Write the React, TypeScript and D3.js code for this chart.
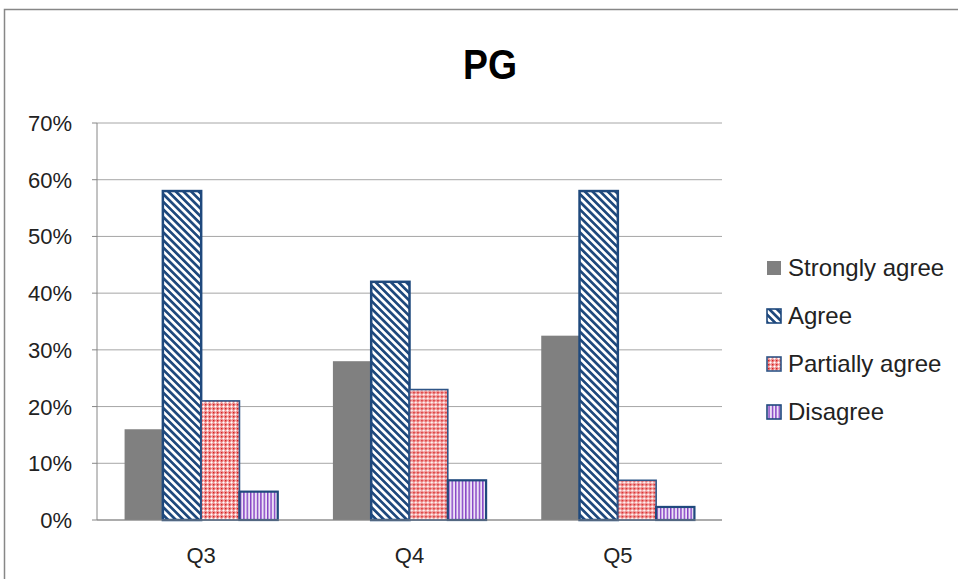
import React from "react";
import * as d3 from "d3";

const categories = ["Q3", "Q4", "Q5"];
const seriesNames = ["Strongly agree", "Agree", "Partially agree", "Disagree"];
const stronglyAgree = [0.16, 0.28, 0.325];
const agree = [0.58, 0.42, 0.58];
const partiallyAgree = [0.21, 0.23, 0.07];
const disagree = [0.05, 0.07, 0.023];
const yTicks = [0, 0.1, 0.2, 0.3, 0.4, 0.5, 0.6, 0.7];

const seriesValues = [stronglyAgree, agree, partiallyAgree, disagree];

const W = 958;
const H = 579;
const FONT = "'Liberation Sans', Arial, sans-serif";

const fills = ["#808080", "url(#hatchAgree)", "url(#checkPartial)", "url(#stripeDisagree)"];
const strokes = ["none", "#1F497D", "#2F5587", "#1F497D"];
const strokeWidths = [0, 2.5, 1.6, 2.2];

export default function App() {
  const x0 = d3.scaleBand<string>().domain(categories).range([97, 722]).padding(0);
  const x1 = d3
    .scaleBand<string>()
    .domain(seriesNames)
    .range([0, x0.bandwidth()])
    .paddingInner(0)
    .paddingOuter(0.72);
  const y = d3.scaleLinear().domain([0, 0.7]).range([520, 123]);
  const fmt = d3.format(".0%");

  const legendY = [276, 324, 372, 420];

  return (
    <svg
      width={W}
      height={H}
      style={{ position: "absolute", left: 0, top: 0, background: "#fff" }}
    >
      <defs>
        <pattern
          id="hatchAgree"
          patternUnits="userSpaceOnUse"
          width={5.4}
          height={5.4}
          patternTransform="rotate(-45)"
        >
          <rect width={5.4} height={5.4} fill="#fff" />
          <rect width={2.7} height={5.4} fill="#1F497D" />
        </pattern>
        <pattern id="checkPartial" patternUnits="userSpaceOnUse" width={4} height={4}>
          <rect width={4} height={4} fill="#EF9494" />
          <rect x={0} y={0} width={1.4} height={1.4} fill="#D62020" />
          <rect x={2} y={1.4} width={1} height={2.2} fill="#fff" />
          <rect x={1.4} y={2} width={2.2} height={1} fill="#fff" />
        </pattern>
        <pattern id="stripeDisagree" patternUnits="userSpaceOnUse" width={3.4} height={4}>
          <rect width={3.4} height={4} fill="#EDE3F6" />
          <rect width={1.4} height={4} fill="#8440C4" />
        </pattern>
      </defs>

      {/* chart frame */}
      <rect x={4.5} y={9.5} width={1000} height={1000} fill="#fff" stroke="#878787" strokeWidth={1.5} />

      {/* title */}
      <text
        x={490}
        y={79}
        textAnchor="middle"
        fontFamily={FONT}
        fontWeight="bold"
        fontSize={42}
        textLength={54}
        lengthAdjust="spacingAndGlyphs"
        fill="#000"
      >
        PG
      </text>

      {/* gridlines */}
      {yTicks.map((t) => (
        <line key={"g" + t} x1={97} x2={722} y1={y(t)} y2={y(t)} stroke="#A6A6A6" strokeWidth={1} />
      ))}

      {/* y axis */}
      <line x1={97} x2={97} y1={y(0.7)} y2={y(0)} stroke="#868686" strokeWidth={1} />
      {yTicks.map((t) => (
        <g key={"t" + t}>
          <line x1={92} x2={97} y1={y(t)} y2={y(t)} stroke="#868686" strokeWidth={1} />
          <text
            x={72}
            y={y(t) + 8}
            textAnchor="end"
            fontFamily={FONT}
            fontSize={22}
            fill="#222"
          >
            {fmt(t)}
          </text>
        </g>
      ))}

      {/* bars */}
      {categories.map((c, ci) => (
        <g key={c} transform={`translate(${x0(c)},0)`}>
          {seriesNames.map((s, si) => {
            const v = seriesValues[si][ci];
            return (
              <rect
                key={s}
                x={x1(s)}
                y={y(v)}
                width={x1.bandwidth()}
                height={y(0) - y(v)}
                fill={fills[si]}
                stroke={strokes[si]}
                strokeWidth={strokeWidths[si]}
              />
            );
          })}
        </g>
      ))}

      {/* x axis */}
      <line x1={97} x2={722} y1={y(0)} y2={y(0)} stroke="#868686" strokeWidth={1.2} />
      {categories.map((c) => (
        <text
          key={"x" + c}
          x={(x0(c) as number) + x0.bandwidth() / 2}
          y={563}
          textAnchor="middle"
          fontFamily={FONT}
          fontSize={22}
          fill="#222"
        >
          {c}
        </text>
      ))}

      {/* legend */}
      {seriesNames.map((s, si) => (
        <g key={"l" + s}>
          <rect
            x={767}
            y={legendY[si] - 15}
            width={14}
            height={14}
            fill={fills[si]}
            stroke={strokes[si]}
            strokeWidth={si === 0 ? 0 : 1.6}
          />
          <text x={788} y={legendY[si]} fontFamily={FONT} fontSize={24} fill="#222">
            {s}
          </text>
        </g>
      ))}
    </svg>
  );
}
